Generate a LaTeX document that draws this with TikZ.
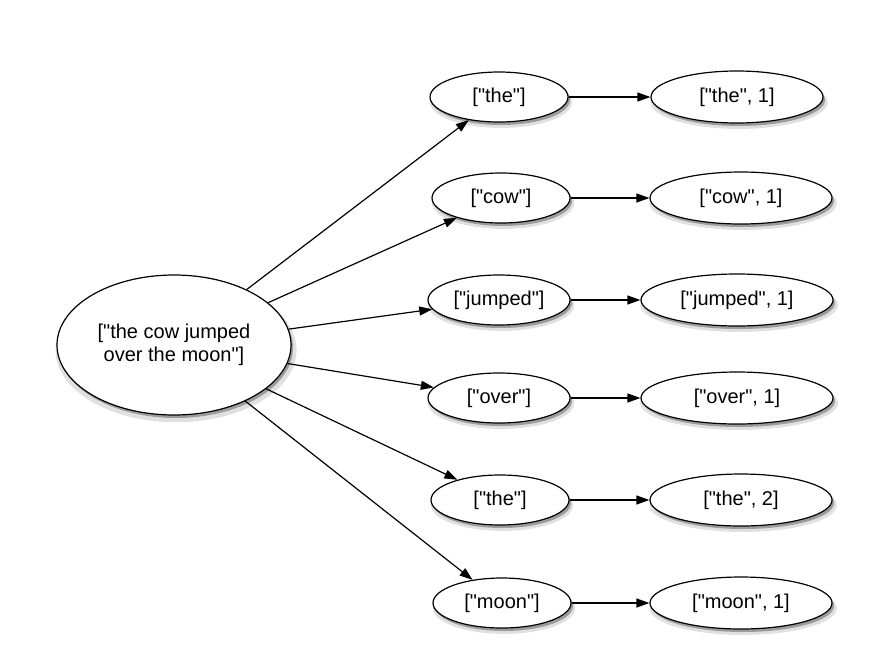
\documentclass[tikz,border=0pt]{standalone}
\usepackage{fontspec}
\setmainfont{Liberation Sans}[Ligatures=TeXOff]
\usetikzlibrary{shapes.geometric, arrows.meta, positioning, shadows}

\begin{document}
\begin{tikzpicture}[
    x=1pt, y=-1pt,
    token/.style={ellipse, draw=black, fill=white, line width=1.2pt, inner sep=0pt, minimum width=138pt, minimum height=50pt, align=center, font=\fontsize{20}{23}\selectfont,
        drop shadow={shadow xshift=2pt, shadow yshift=-5pt, opacity=0.12, fill=black, shadow scale=1.03},
        drop shadow={shadow xshift=2pt, shadow yshift=-3pt, opacity=0.3, fill=black}},
    pair/.style={token, minimum width=182pt, minimum height=52pt},
    line/.style={line width=1.2pt, -{Triangle[length=13pt, width=9pt]}},
]
\useasboundingbox (0,0) rectangle (880,654);

\node[token, minimum width=234pt, minimum height=140pt] (sentence) at (174,345) {["the cow jumped\\over the moon"]};

\node[token] (the) at (499,97) {["the"]};
\node[token] (cow) at (501,198) {["cow"]};
\node[token, minimum width=142pt] (jumped) at (499,300) {["jumped"]};
\node[token, minimum width=142pt] (over) at (499,398) {["over"]};
\node[token] (theb) at (500,500) {["the"]};
\node[token] (moon) at (502,603) {["moon"]};

\node[pair, minimum width=172pt] (thecount) at (737,97) {["the", 1]};
\node[pair] (cowcount) at (741,198) {["cow", 1]};
\node[pair, minimum width=192pt] (jumpedcount) at (737,300) {["jumped", 1]};
\node[pair, minimum width=192pt] (overcount) at (737,398) {["over", 1]};
\node[pair] (thebcount) at (741,500) {["the", 2]};
\node[pair] (mooncount) at (741,603) {["moon", 1]};

\draw[line] (sentence) -- (the);
\draw[line] (sentence) -- (cow);
\draw[line] (sentence) -- (jumped);
\draw[line] (sentence) -- (over);
\draw[line] (sentence) -- (theb);
\draw[line] (sentence) -- (moon);

\draw[line] (the) -- (thecount);
\draw[line] (cow) -- (cowcount);
\draw[line] (jumped) -- (jumpedcount);
\draw[line] (over) -- (overcount);
\draw[line] (theb) -- (thebcount);
\draw[line] (moon) -- (mooncount);

\end{tikzpicture}
\end{document}
